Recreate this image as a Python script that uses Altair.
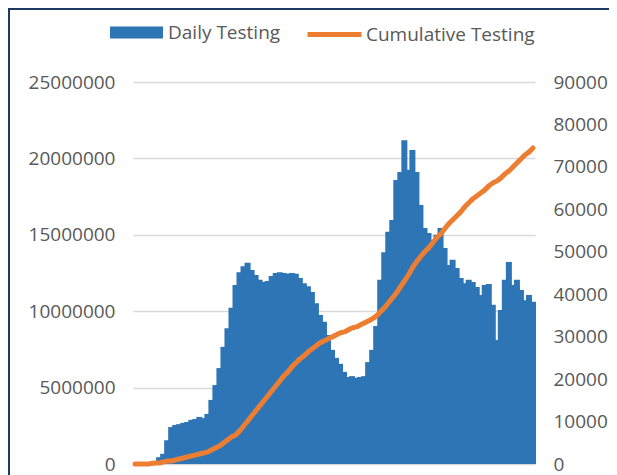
import altair as alt
import pandas as pd

day = list(range(1, 101))
daily_tests = [0, 0, 0, 0, 200, 700, 1600, 2400, 5600, 8700,
               9200, 9400, 9700, 9900, 10400, 10600, 11100, 10800, 11800, 15100,
               18600, 22600, 27600, 32000, 36800, 42200, 45200, 46600, 47400, 45700,
               44500, 43400, 42900, 43100, 44300, 45000, 45200, 45000, 44800, 45000,
               44800, 43800, 42600, 41900, 40500, 37900, 35100, 33500, 30400, 26900,
               25000, 23600, 21700, 20500, 20700, 20300, 20500, 20700, 24000, 26900,
               32500, 43400, 49900, 54700, 57500, 66900, 68800, 76300, 69300, 74000,
               68800, 61000, 55600, 54400, 52800, 54000, 55600, 50900, 46900, 48100,
               46200, 43800, 42600, 43400, 42900, 41700, 39800, 42200, 42400, 37500,
               29200, 36300, 43400, 47600, 42200, 43400, 41000, 38600, 39800, 38200]
cumulative_tests = [0, 0, 0, 0, 30000, 65000, 65000, 131000, 196000, 196000,
                    262000, 327000, 393000, 458000, 524000, 589000, 654000, 720000, 785000, 916000,
                    1047000, 1178000, 1374000, 1571000, 1767000, 1898000, 2160000, 2487000, 2814000, 3141000,
                    3469000, 3796000, 4123000, 4450000, 4777000, 5105000, 5432000, 5759000, 6021000, 6348000,
                    6610000, 6872000, 7068000, 7330000, 7526000, 7723000, 7919000, 8050000, 8181000, 8312000,
                    8442000, 8573000, 8639000, 8770000, 8900000, 8966000, 9097000, 9228000, 9359000, 9490000,
                    9686000, 9948000, 10209000, 10537000, 10864000, 11191000, 11584000, 11976000, 12369000, 12827000,
                    13220000, 13547000, 13874000, 14136000, 14463000, 14791000, 15052000, 15380000, 15707000, 15969000,
                    16230000, 16492000, 16819000, 17081000, 17343000, 17539000, 17736000, 17932000, 18194000, 18390000,
                    18521000, 18717000, 18979000, 19175000, 19437000, 19699000, 19961000, 20223000, 20419000, 20681000]
left_ticks = [0, 5000000, 10000000, 15000000, 20000000, 25000000]
right_ticks = [0, 10000, 20000, 30000, 40000, 50000, 60000, 70000, 80000, 90000]
series_names = ["Daily Testing", "Cumulative Testing"]

df = pd.DataFrame({"day": day, "daily": daily_tests, "cumulative": cumulative_tests})
df["s1"] = series_names[0]
df["s2"] = series_names[1]

FONT = "Open Sans"
GRAY = "#595959"
BLUE = "#2E75B6"
ORANGE = "#ED7D31"
NAVY = "#1F3864"

x_enc = alt.X("day:O", axis=None, scale=alt.Scale(paddingInner=0, paddingOuter=0))

bars = alt.Chart(df).mark_bar(width=alt.RelativeBandSize(1.5), opacity=1).encode(
    x=x_enc,
    y=alt.Y("daily:Q", scale=alt.Scale(domain=[0, 90000], nice=False),
            axis=alt.Axis(orient="right", values=right_ticks, format="d", grid=False,
                          ticks=False, domain=False, labelPadding=18, title=None,
                          labelFont=FONT, labelFontSize=19, labelColor=GRAY)),
    fill=alt.Fill("s1:N", scale=alt.Scale(domain=[series_names[0]], range=[BLUE]),
                  legend=alt.Legend(title=None, orient="none", legendX=-24, legendY=-77,
                                    symbolType="M-1,-0.226H1V0.226H-1Z", symbolSize=2809,
                                    labelOffset=4, labelFont=FONT, labelFontSize=19,
                                    labelColor=GRAY, padding=0, labelLimit=300)),
)

line = alt.Chart(df).mark_line(strokeWidth=5, strokeCap="round", strokeJoin="round",
                               interpolate="monotone").encode(
    x=x_enc,
    y=alt.Y("cumulative:Q", scale=alt.Scale(domain=[0, 25000000], nice=False),
            axis=alt.Axis(orient="left", values=left_ticks, format="d", grid=True,
                          gridColor="#D9D9D9", gridWidth=1.4, ticks=False, domain=False,
                          labelPadding=18, title=None, labelFont=FONT, labelFontSize=19,
                          labelColor=GRAY)),
    stroke=alt.Stroke("s2:N", scale=alt.Scale(domain=[series_names[1]], range=[ORANGE]),
                      legend=alt.Legend(title=None, orient="none", legendX=172, legendY=-77,
                                        symbolType="stroke", symbolSize=2916, symbolStrokeWidth=5,
                                        labelOffset=2, labelFont=FONT, labelFontSize=19,
                                        labelColor=GRAY, padding=0, labelLimit=300)),
)

frame_left = alt.Chart().mark_rule(color=NAVY, strokeWidth=2).encode(
    x=alt.value(-124), y=alt.value(-74), y2=alt.value(395))
frame_top = alt.Chart().mark_rule(color=NAVY, strokeWidth=2).encode(
    x=alt.value(-125), x2=alt.value(476), y=alt.value(-73))

chart = alt.layer(frame_left, frame_top, bars, line).resolve_scale(
    y="independent", fill="independent", stroke="independent"
).properties(
    width=402, height=382,
    padding={"left": 125, "top": 74, "right": 74, "bottom": 11},
    autosize=alt.AutoSizeParams(type="none"),
    background="white",
).configure_view(stroke=None)

chart.save("out.html", embed_options={"renderer": "svg", "actions": False})
